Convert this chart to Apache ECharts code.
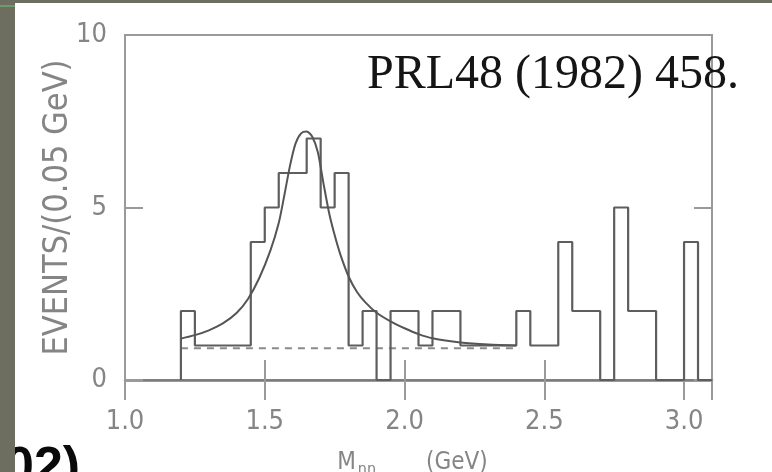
<!DOCTYPE html>
<html>
<head>
<meta charset="utf-8">
<script src="https://cdn.jsdelivr.net/npm/echarts@6/dist/echarts.min.js"></script>
<style>
  html, body { margin: 0; padding: 0; background: #ffffff; }
  #chart { width: 772px; height: 472px; }
</style>
</head>
<body>
<div id="chart"></div>
<script>
// ηη invariant-mass spectrum, events per 0.05 GeV bin
const binLow = [1.20, 1.25, 1.30, 1.35, 1.40, 1.45, 1.50, 1.55, 1.60, 1.65,
                1.70, 1.75, 1.80, 1.85, 1.90, 1.95, 2.00, 2.05, 2.10, 2.15,
                2.20, 2.25, 2.30, 2.35, 2.40, 2.45, 2.50, 2.55, 2.60, 2.65,
                2.70, 2.75, 2.80, 2.85, 2.90, 2.95, 3.00, 3.05];
const binCounts = [2, 1, 1, 1, 1, 4, 5, 6, 6, 7,
                   5, 6, 1, 2, 0, 2, 2, 1, 2, 2,
                   1, 1, 1, 1, 2, 1, 1, 4, 2, 2,
                   0, 5, 2, 2, 0, 0, 4, 0];
const binWidth = 0.05;

// fitted resonance + background curve
const fitMass  = [1.20, 1.25, 1.30, 1.35, 1.40, 1.44, 1.48, 1.52, 1.55, 1.57,
                  1.59, 1.61, 1.63, 1.65, 1.67, 1.69, 1.71, 1.73, 1.75, 1.77,
                  1.80, 1.83, 1.86, 1.90, 1.95, 2.00, 2.05, 2.10, 2.20, 2.30, 2.40];
const fitValue = [1.20, 1.30, 1.44, 1.64, 1.95, 2.35, 2.95, 3.75, 4.55, 5.35,
                  6.20, 6.85, 7.15, 7.20, 7.05, 6.60, 5.70, 4.85, 4.20, 3.65,
                  3.00, 2.55, 2.25, 1.95, 1.70, 1.50, 1.33, 1.21, 1.09, 1.03, 1.00];

// flat background level (dashed)
const bgMass  = [1.20, 2.41];
const bgLevel = 0.92;

const xTicks = [1.0, 1.5, 2.0, 2.5, 3.0];
const yTicks = [0, 5, 10];

const citation = 'PRL48 (1982) 458.';

// step outline of the histogram
const histPath = [[binLow[0], 0]];
binLow.forEach((lo, i) => {
  histPath.push([lo, binCounts[i]], [lo + binWidth, binCounts[i]]);
});

const fitData = fitMass.map((m, i) => [m, fitValue[i]]);
const bgData = bgMass.map(m => [m, bgLevel]);

const frameGray = '#9a9a9a';
const labelGray = '#858585';
const labelFont = '"Liberation Sans Narrow", "DejaVu Sans Condensed", "Liberation Sans", sans-serif';

const chart = echarts.init(document.getElementById('chart'), null, { renderer: 'canvas' });

const tickLabel = v => (xTicks.some(t => Math.abs(t - v) < 1e-6) ? v.toFixed(1) : '');

chart.setOption({
  animation: false,
  backgroundColor: '#ffffff',
  grid: {
    left: 125, right: 60, top: 35, bottom: 92,
    outerBoundsMode: 'none', containLabel: false,
    show: true, borderColor: frameGray, borderWidth: 2, backgroundColor: 'transparent'
  },
  xAxis: [{
    type: 'value', min: 1.0, max: 3.1, interval: 0.5,
    axisLine: { show: true, lineStyle: { color: '#7a7a7a', width: 2.5 } },
    axisTick: { show: true, inside: true, length: 20, lineStyle: { color: frameGray, width: 2 } },
    axisLabel: {
      formatter: tickLabel, showMaxLabel: false, margin: 28,
      color: labelGray, fontSize: 27, fontFamily: labelFont
    },
    splitLine: { show: false },
    name: '{m|M}{s|ηη}{u|(GeV)}',
    nameLocation: 'middle', nameGap: 68, nameMoveOverlap: false,
    nameTextStyle: {
      color: labelGray, fontFamily: labelFont,
      rich: {
        m: { fontSize: 24, color: labelGray, fontFamily: labelFont },
        s: { fontSize: 16, color: labelGray, fontFamily: labelFont, padding: [14, 50, 0, 2] },
        u: { fontSize: 24, color: labelGray, fontFamily: labelFont, padding: [0, 12, 0, 0] }
      }
    }
  }, {
    type: 'value', position: 'top', min: 1.0, max: 3.1, interval: 0.5,
    axisLine: { show: false },
    axisTick: { show: true, inside: true, length: 20, lineStyle: { color: frameGray, width: 2 } },
    axisLabel: { show: false },
    splitLine: { show: false }
  }],
  yAxis: [{
    type: 'value', min: 0, max: 10, interval: 5,
    axisLine: { show: false },
    axisTick: { show: true, inside: true, length: 18, lineStyle: { color: frameGray, width: 2 } },
    axisLabel: {
      margin: 18, color: labelGray, fontSize: 27, fontFamily: labelFont,
      formatter: v => (yTicks.includes(v) ? String(v) : '')
    },
    splitLine: { show: false },
    name: 'EVENTS/(0.05 GeV)',
    nameLocation: 'middle', nameGap: 50, nameRotate: 90, nameMoveOverlap: false,
    nameTextStyle: { color: labelGray, fontSize: 34, fontFamily: labelFont }
  }, {
    type: 'value', position: 'right', min: 0, max: 10, interval: 5,
    axisLine: { show: false },
    axisTick: { show: true, inside: true, length: 18, lineStyle: { color: frameGray, width: 2 } },
    axisLabel: { show: false },
    splitLine: { show: false }
  }],
  series: [{
    name: 'background',
    type: 'line', data: bgData, symbol: 'none', silent: true,
    lineStyle: { color: '#8a8a8a', width: 2.2, type: [7, 6] }, z: 2
  }, {
    name: 'events',
    type: 'line', data: histPath, symbol: 'none', silent: true,
    lineStyle: { color: '#5e5e5e', width: 2.2 }, z: 3
  }, {
    name: 'fit',
    type: 'line', data: fitData, symbol: 'none', silent: true,
    smooth: 0.25,
    lineStyle: { color: '#555555', width: 2 }, z: 4
  }],
  graphic: [{
    type: 'text', z: 10,
    style: {
      text: citation, x: 367, y: 75, verticalAlign: 'middle',
      font: '48px "Liberation Serif", "Times New Roman", serif', fill: '#151515'
    }
  }, {
    type: 'text', z: 20,
    style: {
      text: '02)', x: 5, y: 469, verticalAlign: 'middle',
      font: 'bold 52px "Liberation Sans", Arial, sans-serif', fill: '#0a0a0a'
    }
  }, {
    type: 'rect', z: 30, shape: { x: 0, y: 0, width: 15, height: 472 },
    style: { fill: '#6d6d60' }
  }, {
    type: 'rect', z: 30, shape: { x: 0, y: 0, width: 772, height: 3 },
    style: { fill: '#6d6d60' }
  }, {
    type: 'rect', z: 31, shape: { x: 0, y: 5, width: 15, height: 2 },
    style: { fill: '#6f9a6a' }
  }]
});
</script>
</body>
</html>
